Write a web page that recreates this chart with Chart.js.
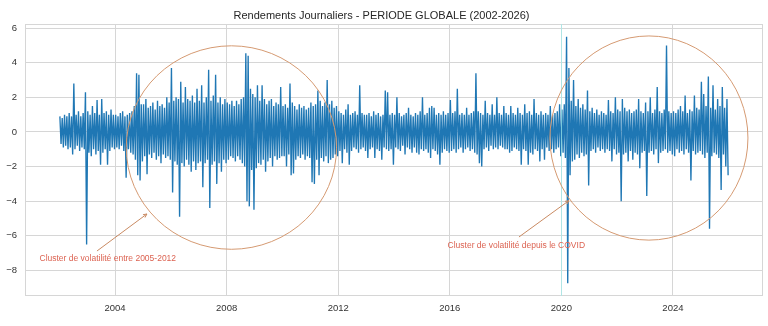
<!DOCTYPE html>
<html lang="fr">
<head>
<meta charset="utf-8">
<title>Rendements Journaliers - PERIODE GLOBALE</title>
<script src="https://cdn.jsdelivr.net/npm/chart.js@4.4.1/dist/chart.umd.min.js"></script>
<style>
    html, body { margin: 0; padding: 0; background: #ffffff; }
    #wrap { width: 768px; height: 326px; }
</style>
</head>
<body>
<div id="wrap"><canvas id="returnsChart" width="768" height="326"></canvas></div>
<script>
// =====================================================
// Data (monthly high / low of the daily returns)
// =====================================================

const startYear = 2002;

const monthlyHigh = [
    0.9, 0.8, 1.0, 0.9, 1.1, 0.9, 2.8, 1.0, 1.2, 0.9, 1.1, 2.3,      // 2002
    1.2, 1.0, 1.5, 1.1, 1.85, 1.0, 1.9, 1.1, 1.2, 1.0, 1.3, 1.0,     // 2003
    1.0, 0.9, 1.1, 1.2, 0.9, 1.0, 1.1, 1.2, 1.5, 3.4, 3.3, 1.6,      // 2004
    1.6, 1.9, 1.4, 1.5, 1.7, 1.3, 1.8, 1.5, 1.6, 1.4, 2.0, 1.7,      // 2005
    3.7, 1.8, 2.0, 1.9, 2.9, 1.7, 2.6, 1.9, 1.8, 2.1, 1.7, 2.5,      // 2006
    1.8, 2.7, 1.7, 2.0, 3.6, 1.8, 2.1, 3.3, 1.7, 2.0, 1.6, 1.9,      // 2007
    1.7, 1.6, 1.8, 1.5, 1.8, 1.6, 1.9, 2.0, 4.55, 4.4, 2.5, 2.2,     // 2008
    2.0, 2.7, 1.8, 2.7, 1.9, 1.6, 1.8, 1.9, 1.5, 1.7, 1.6, 2.6,      // 2009
    1.5, 1.6, 1.4, 2.8, 1.7, 1.5, 1.3, 1.6, 1.4, 1.5, 1.3, 1.4,      // 2010
    1.7, 1.5, 1.6, 2.4, 1.8, 1.5, 1.7, 3.0, 1.6, 1.8, 1.4, 1.5,      // 2011
    1.2, 1.1, 1.0, 1.3, 1.6, 1.0, 1.1, 1.2, 1.0, 2.7, 1.1, 1.0,      // 2012
    1.0, 1.1, 0.9, 1.2, 1.0, 1.1, 0.9, 1.0, 2.4, 2.3, 1.0, 1.1,      // 2013
    1.0, 2.0, 1.1, 0.9, 1.0, 1.1, 1.4, 1.0, 0.9, 1.1, 1.0, 1.2,      // 2014
    2.0, 1.0, 1.1, 1.4, 1.5, 1.4, 1.0, 1.1, 1.0, 1.2, 1.0, 1.1,      // 2015
    1.85, 1.1, 1.2, 2.5, 1.0, 1.1, 1.0, 1.4, 1.0, 1.1, 1.2, 3.4,     // 2016
    1.2, 1.1, 1.0, 1.8, 1.1, 1.0, 1.6, 1.0, 2.0, 1.1, 1.0, 1.5,      // 2017
    1.1, 1.0, 1.5, 1.1, 1.0, 1.4, 1.1, 1.0, 1.6, 1.1, 1.2, 1.0,      // 2018
    1.9, 1.1, 1.0, 1.2, 1.0, 1.1, 1.0, 1.5, 1.0, 1.1, 1.2, 1.6,      // 2019
    1.3, 1.6, 5.5, 3.7, 1.8, 3.0, 1.5, 1.9, 1.4, 1.6, 1.3, 2.4,      // 2020
    1.2, 1.4, 1.1, 1.3, 1.0, 1.2, 1.1, 1.0, 1.85, 1.2, 1.1, 2.0,     // 2021
    1.3, 1.2, 1.9, 1.4, 1.2, 1.3, 1.1, 1.2, 1.3, 1.9, 1.2, 1.1,      // 2022
    1.7, 1.2, 2.0, 1.1, 1.3, 2.6, 1.2, 1.1, 1.3, 5.0, 1.2, 1.1,      // 2023
    1.2, 1.1, 1.3, 1.5, 1.2, 2.1, 1.1, 1.3, 1.2, 2.1, 1.4, 1.3,      // 2024
    2.9, 2.2, 1.5, 3.2, 1.4, 2.7, 1.3, 1.9, 1.5, 2.6, 1.4, 1.9       // 2025
];

const monthlyLow = [
    -0.7, -0.9, -0.8, -1.0, -0.9, -1.3, -1.0, -0.8, -1.1, -0.9, -1.0, -6.5,    // 2002
    -1.2, -1.4, -1.0, -1.3, -1.1, -1.9, -1.2, -1.0, -1.9, -1.1, -0.9, -1.0,    // 2003
    -0.9, -1.0, -0.8, -1.1, -2.65, -1.0, -1.2, -1.3, -1.6, -2.5, -2.8, -1.7,   // 2004
    -1.4, -2.45, -1.3, -1.5, -1.2, -1.6, -1.4, -1.8, -1.3, -1.5, -1.4, -1.6,   // 2005
    -3.5, -1.7, -1.9, -4.9, -1.8, -2.0, -1.6, -1.9, -2.3, -1.7, -2.2, -1.8,    // 2006
    -1.7, -3.2, -1.8, -1.6, -4.4, -1.9, -1.7, -3.0, -1.8, -2.3, -1.6, -1.8,    // 2007
    -1.6, -1.4, -1.5, -1.7, -1.4, -1.6, -1.8, -2.0, -4.0, -4.3, -2.2, -4.5,    // 2008
    -2.1, -1.8, -1.9, -1.6, -2.3, -1.7, -1.5, -2.0, -1.4, -1.6, -1.5, -1.4,    // 2009
    -1.4, -2.0, -1.3, -2.5, -2.4, -1.6, -1.4, -1.5, -1.3, -1.6, -1.4, -1.5,    // 2010
    -2.9, -3.0, -1.6, -2.5, -1.5, -1.7, -1.4, -1.8, -1.6, -1.5, -1.3, -1.4,    // 2011
    -1.1, -1.8, -1.0, -1.2, -1.9, -1.1, -0.9, -1.0, -1.2, -1.0, -0.9, -1.1,    // 2012
    -1.5, -1.0, -0.9, -1.5, -1.0, -1.1, -1.6, -0.9, -1.0, -1.1, -1.0, -1.9,    // 2013
    -0.9, -1.0, -1.1, -0.8, -1.3, -0.9, -1.0, -1.2, -0.9, -1.2, -1.3, -1.0,    // 2014
    -1.1, -1.0, -1.2, -1.5, -1.0, -1.1, -1.3, -1.9, -1.2, -1.0, -1.1, -1.2,    // 2015
    -1.1, -1.0, -1.2, -1.0, -0.9, -1.2, -1.0, -0.9, -1.1, -1.0, -1.2, -1.3,    // 2016
    -1.8, -2.0, -1.0, -0.9, -1.1, -0.8, -1.0, -0.9, -1.0, -0.8, -0.9, -1.0,    // 2017
    -1.0, -1.2, -1.1, -0.9, -1.0, -1.1, -1.9, -1.0, -1.1, -1.9, -1.2, -1.3,    // 2018
    -1.0, -1.1, -1.7, -1.0, -1.6, -0.9, -1.1, -1.0, -1.2, -1.0, -0.9, -1.4,    // 2019
    -1.2, -1.5, -8.75, -2.5, -1.7, -1.6, -1.3, -1.5, -1.2, -1.4, -1.3, -3.1,   // 2020
    -1.1, -1.0, -1.2, -0.9, -1.1, -1.0, -1.2, -1.0, -1.1, -1.7, -1.0, -1.3,    // 2021
    -1.2, -4.0, -1.3, -1.2, -1.7, -1.1, -1.6, -1.2, -1.3, -2.1, -1.2, -1.1,    // 2022
    -3.7, -1.2, -1.1, -1.3, -1.0, -1.8, -1.2, -1.1, -1.0, -1.2, -1.1, -1.3,    // 2023
    -1.4, -1.0, -1.2, -1.1, -1.3, -1.0, -1.2, -2.8, -1.1, -1.3, -1.2, -1.1,    // 2024
    -1.3, -1.5, -1.2, -5.6, -1.4, -1.2, -1.3, -1.5, -3.35, -1.3, -2.0, -2.5    // 2025
];

const xTicks = [2004, 2008, 2012, 2016, 2020, 2024];
const yTicks = [-8, -6, -4, -2, 0, 2, 4, 6];

const xMin = 2000.77;
const xMax = 2027.23;
const yMin = -9.48;
const yMax = 6.24;

const covidYear = 2020;

// Annotation shapes in data units
const clusters = [
    { cx: 2008.17, cy: -0.9, rx: 3.77, ry: 5.88 },
    { cx: 2023.14, cy: -0.35, rx: 3.55, ry: 5.9 }
];

const notes = [
    { text: 'Cluster de volatilité entre 2005-2012', x: 2001.29, y: -7.34, from: [2003.35, -6.88], to: [2005.14, -4.74] },
    { text: 'Cluster de volatilité depuis le COVID', x: 2015.92, y: -6.57, from: [2018.48, -6.07], to: [2020.27, -3.97] }
];

// =====================================================
// Build the series
// =====================================================

const points = [];
monthlyHigh.forEach((hi, i) => {
    const t = startYear + i / 12;
    points.push({ x: t + 0.25 / 12, y: hi });
    points.push({ x: t + 0.75 / 12, y: monthlyLow[i] });
});

const FONT = '"Liberation Sans", Arial, sans-serif';
const GRID = '#d6d6d6';

// =====================================================
// Overlay: frame, 2020 marker, ellipses, arrows, notes
// =====================================================

const overlayPlugin = {
    id: 'overlay',
    afterDatasetsDraw(chart) {
        const { ctx, chartArea, scales } = chart;
        const xs = scales.x;
        const ys = scales.y;

        ctx.save();

        // frame
        ctx.strokeStyle = GRID;
        ctx.lineWidth = 1;
        ctx.strokeRect(chartArea.left + 0.5, chartArea.top + 0.5,
            chartArea.right - chartArea.left - 1, chartArea.bottom - chartArea.top - 1);

        // 2020 marker
        const vx = Math.round(xs.getPixelForValue(covidYear)) + 0.5;
        ctx.strokeStyle = 'rgba(160, 235, 235, 0.7)';
        ctx.beginPath();
        ctx.moveTo(vx, chartArea.top);
        ctx.lineTo(vx, chartArea.bottom);
        ctx.stroke();

        // ellipses
        ctx.strokeStyle = '#d59a72';
        ctx.lineWidth = 1;
        clusters.forEach(c => {
            const px = xs.getPixelForValue(c.cx);
            const py = ys.getPixelForValue(c.cy);
            const rx = Math.abs(xs.getPixelForValue(c.cx + c.rx) - px);
            const ry = Math.abs(ys.getPixelForValue(c.cy + c.ry) - py);
            ctx.beginPath();
            ctx.ellipse(px, py, rx, ry, 0, 0, Math.PI * 2);
            ctx.stroke();
        });

        // arrows + text
        notes.forEach(n => {
            const x0 = xs.getPixelForValue(n.from[0]);
            const y0 = ys.getPixelForValue(n.from[1]);
            const x1 = xs.getPixelForValue(n.to[0]);
            const y1 = ys.getPixelForValue(n.to[1]);
            const ang = Math.atan2(y1 - y0, x1 - x0);
            const head = 4;

            ctx.strokeStyle = '#c98a62';
            ctx.lineWidth = 1;
            ctx.beginPath();
            ctx.moveTo(x0, y0);
            ctx.lineTo(x1, y1);
            ctx.moveTo(x1 - head * Math.cos(ang - 0.45), y1 - head * Math.sin(ang - 0.45));
            ctx.lineTo(x1, y1);
            ctx.lineTo(x1 - head * Math.cos(ang + 0.45), y1 - head * Math.sin(ang + 0.45));
            ctx.stroke();

            ctx.fillStyle = '#dc6352';
            ctx.font = '8.5px ' + FONT;
            ctx.textAlign = 'left';
            ctx.textBaseline = 'middle';
            ctx.fillText(n.text, xs.getPixelForValue(n.x), ys.getPixelForValue(n.y));
        });

        ctx.restore();
    }
};

// =====================================================
// Chart
// =====================================================

new Chart(document.getElementById('returnsChart'), {
    type: 'line',
    data: {
        datasets: [{
            data: points,
            borderColor: '#1f77b4',
            borderWidth: 1.35,
            borderJoinStyle: 'miter',
            pointRadius: 0,
            tension: 0,
            fill: false
        }]
    },
    options: {
        responsive: false,
        animation: false,
        devicePixelRatio: 1,
        layout: { padding: { left: 0, right: 5, top: 0, bottom: 0 } },
        plugins: {
            legend: { display: false },
            tooltip: { enabled: false },
            title: {
                display: true,
                text: 'Rendements Journaliers - PERIODE GLOBALE (2002-2026)',
                color: '#262626',
                font: { family: FONT, size: 11, weight: 'normal' },
                padding: { top: 9.4, bottom: 1.4 }
            }
        },
        scales: {
            x: {
                type: 'linear',
                min: xMin,
                max: xMax,
                afterBuildTicks: s => { s.ticks = xTicks.map(v => ({ value: v })); },
                afterFit: s => { s.height = 30; },
                grid: { color: GRID, drawTicks: false },
                border: { display: false },
                ticks: {
                    padding: 7,
                    color: '#333333',
                    font: { family: FONT, size: 9.5 },
                    maxRotation: 0,
                    callback: v => String(v)
                }
            },
            y: {
                min: yMin,
                max: yMax,
                afterBuildTicks: s => { s.ticks = yTicks.map(v => ({ value: v })); },
                afterFit: s => { s.width = 25; },
                grid: { color: GRID, drawTicks: false },
                border: { display: false },
                ticks: {
                    padding: 8,
                    color: '#333333',
                    font: { family: FONT, size: 9.5 },
                    callback: v => (v < 0 ? '\u2212' + Math.abs(v) : String(v))
                }
            }
        }
    },
    plugins: [overlayPlugin]
});
</script>
</body>
</html>
